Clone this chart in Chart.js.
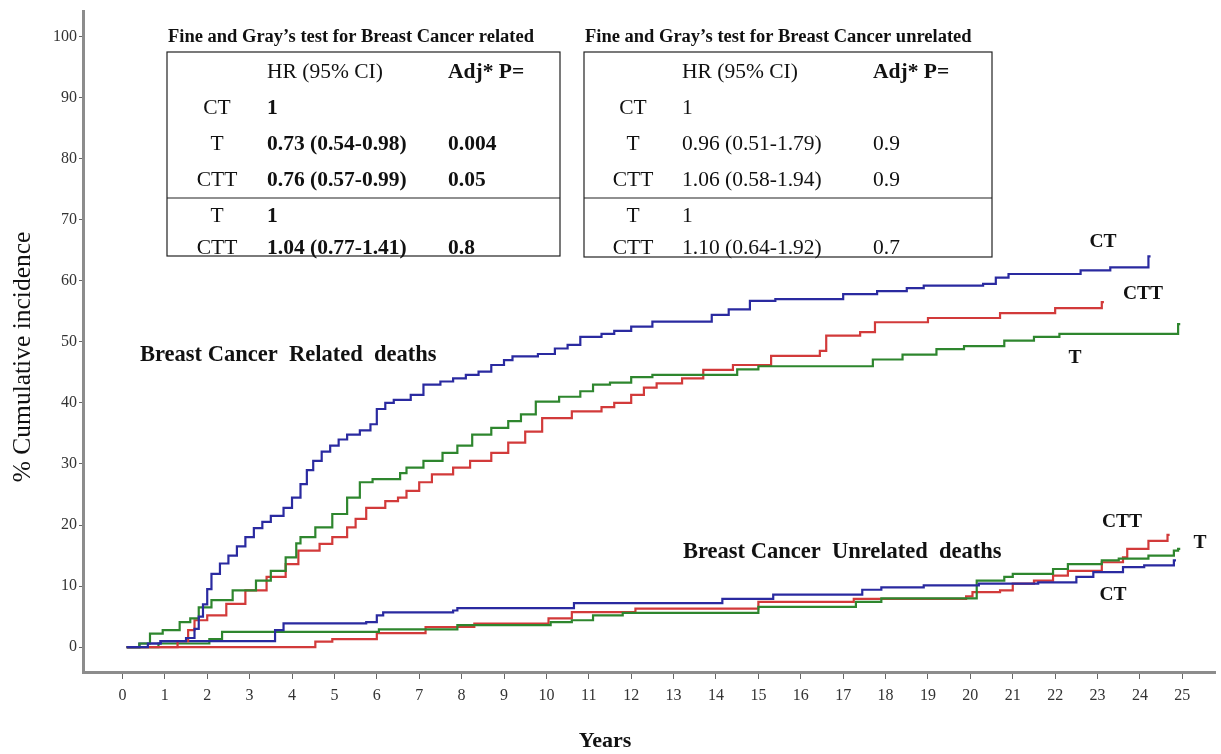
<!DOCTYPE html>
<html>
<head>
<meta charset="utf-8">
<script src="https://cdn.jsdelivr.net/npm/chart.js@4.4.1/dist/chart.umd.min.js"></script>
<style>
  body { margin: 0; background: #fff; }
  #wrap { width: 1221px; height: 754px; position: relative; }
</style>
</head>
<body>
<div id="wrap"><canvas id="chart"></canvas></div>
<script>
// tick labels
const xTicks = [0,1,2,3,4,5,6,7,8,9,10,11,12,13,14,15,16,17,18,19,20,21,22,23,24,25];
const yTicks = [0,10,20,30,40,50,60,70,80,90,100];

// breast cancer related deaths, [years, % cumulative incidence]
const relatedCT = [[0.1,0],[0.6,0.6],[0.9,1],[1.5,1.5],[1.7,3],[1.8,5],[1.9,7],[2.0,9.5],[2.1,12],[2.3,13.7],[2.5,15],[2.7,16.5],[2.9,18],[3.1,19.5],[3.3,20.5],[3.5,21.5],[3.8,22.8],[4.0,24.5],[4.2,26.7],[4.35,29],[4.5,30.5],[4.7,32],[4.9,33],[5.1,34],[5.3,34.8],[5.6,35.5],[5.85,36.5],[6.0,39],[6.2,40],[6.4,40.5],[6.8,41.3],[7.1,43],[7.5,43.5],[7.8,44],[8.1,44.6],[8.4,45.1],[8.7,46.2],[9.0,47],[9.2,47.6],[9.8,48],[10.2,48.9],[10.5,49.5],[10.8,50.8],[11.3,51.3],[11.6,51.8],[12.0,52.5],[12.5,53.3],[13.9,54.4],[14.3,55.3],[14.8,56.7],[15.4,57],[17.0,57.8],[17.8,58.3],[18.5,58.8],[18.9,59.2],[20.3,59.5],[20.6,60.5],[20.9,61.1],[22.6,61.7],[23.3,62.2],[24.2,64],[24.25,64]];
const relatedT = [[0.1,0],[0.4,0.6],[0.65,2.2],[0.95,2.8],[1.35,4.1],[1.6,4.7],[1.8,6.5],[2.1,7.7],[2.6,9.3],[3.15,10.9],[3.5,12.5],[3.85,14.7],[4.1,17],[4.2,18],[4.55,19.6],[4.95,21.8],[5.3,24.5],[5.6,27],[5.9,27.5],[6.55,28.5],[6.7,29.4],[7.1,30.5],[7.55,31.8],[7.9,33],[8.25,34.8],[8.7,35.9],[9.1,37],[9.4,38.1],[9.75,40.2],[10.3,41],[10.8,41.9],[11.1,43],[11.5,43.3],[12.0,44.2],[12.5,44.6],[14.5,45.5],[15.0,46],[17.7,47.1],[18.4,47.9],[19.2,48.8],[19.85,49.3],[20.8,50.2],[21.5,50.8],[22.1,51.3],[24.9,52.9],[24.95,52.9]];
const relatedCTT = [[0.1,0],[1.3,1],[1.55,2.8],[1.7,4.4],[2.0,5.2],[2.45,7.1],[2.9,9.3],[3.4,11.5],[3.85,13.6],[4.15,15.8],[4.65,16.9],[4.95,18],[5.3,19.6],[5.5,21],[5.75,22.8],[6.2,23.9],[6.5,24.5],[6.7,25.6],[7.0,27],[7.3,28.3],[7.8,29.4],[8.2,30.5],[8.7,31.8],[9.1,33.5],[9.5,35.3],[9.9,37.5],[10.6,38.6],[11.3,39.3],[11.6,40],[12.0,41.3],[12.3,42.5],[12.6,43.2],[13.2,44],[13.7,45.4],[14.4,46.2],[15.3,47.7],[16.45,48.5],[16.6,51],[17.4,51.6],[17.75,53.2],[19.0,53.9],[20.7,54.7],[22.0,55.5],[23.1,56.5],[23.15,56.5]];

// breast cancer unrelated deaths
const unrelatedCT = [[0.1,0],[0.4,0.6],[0.9,1],[3.6,2.8],[3.8,3.9],[5.75,4.1],[6.0,5.2],[6.15,5.7],[7.8,6.0],[7.9,6.4],[10.65,7.2],[14.15,7.9],[15.35,8.6],[17.45,9.4],[17.9,9.8],[18.9,10.1],[20.2,10.4],[21.6,10.6],[22.5,11.5],[22.9,12.3],[23.6,13.1],[24.1,13.4],[24.8,14.2],[24.85,14.2]];
const unrelatedT = [[0.1,0],[0.85,0.6],[2.05,1.3],[2.35,2.5],[6.05,2.9],[7.9,3.6],[10.1,4.1],[10.6,4.4],[11.1,5.2],[11.8,5.6],[15.0,6.6],[17.3,7.4],[17.9,8.0],[20.15,10.9],[20.8,11.5],[21.0,12],[21.95,12.8],[22.3,13.6],[23.1,14.2],[23.5,14.5],[24.2,15.0],[24.8,15.8],[24.9,16.1],[24.95,16.1]];
const unrelatedCTT = [[0.1,0],[4.55,0.9],[4.95,1.3],[6.0,2.3],[7.15,3.3],[8.3,3.85],[10.05,4.7],[10.6,5.75],[12.1,6.3],[15.0,7.4],[17.25,7.9],[19.9,8.3],[20.05,9.0],[20.7,9.3],[21.0,10.4],[21.5,10.9],[21.95,11.7],[22.3,12.5],[23.1,13.9],[23.6,14.7],[23.7,16.1],[24.2,17.4],[24.65,18.4],[24.7,18.4]];

// Fine and Gray tables
const tableTitles = ["Fine and Gray\u2019s test for Breast Cancer related", "Fine and Gray\u2019s test for Breast Cancer unrelated"];
const tableHeader = ["HR (95% CI)", "Adj* P="];
const tableGroups = ["CT", "T", "CTT", "T", "CTT"];
const relatedHR = ["1", "0.73 (0.54-0.98)", "0.76 (0.57-0.99)", "1", "1.04 (0.77-1.41)"];
const relatedP = ["", "0.004", "0.05", "", "0.8"];
const unrelatedHR = ["1", "0.96 (0.51-1.79)", "1.06 (0.58-1.94)", "1", "1.10 (0.64-1.92)"];
const unrelatedP = ["", "0.9", "0.9", "", "0.7"];

const BLUE = '#2a2aa0', RED = '#d23a3a', GREEN = '#2e862e';
const SERIF = '"Liberation Serif", "Times New Roman", serif';

function pts(arr) { return arr.map(p => ({x: p[0], y: p[1]})); }
function line(label, arr, color) {
    return {
        label: label,
        data: pts(arr),
        borderColor: color,
        backgroundColor: color,
        borderWidth: 2.2,
        stepped: 'before',
        pointRadius: 0,
        fill: false
    };
}

// text overlays: tables, annotations, axis titles
const overlay = {
    id: 'overlay',
    afterDraw(chart) {
        const ctx = chart.ctx;
        ctx.save();
        ctx.fillStyle = '#111';
        ctx.strokeStyle = '#222';
        ctx.textBaseline = 'middle';

        function txt(s, x, y, size, bold, align) {
            ctx.font = (bold ? 'bold ' : '') + size + 'px ' + SERIF;
            ctx.textAlign = align || 'left';
            ctx.fillText(s, x, y);
        }

        function table(box, title, hr, p, hrBold) {
            const [l, t, r, b, mid, cLab, cHR, cP] = box;
            txt(title, l + 1, 37, 18.5, true);
            ctx.lineWidth = 1.2;
            ctx.strokeRect(l, t, r - l, b - t);
            ctx.beginPath(); ctx.moveTo(l, mid); ctx.lineTo(r, mid); ctx.stroke();
            txt(tableHeader[0], cHR, 72, 21.5, false);
            txt(tableHeader[1], cP, 72, 21.5, true);
            const rowsY = [108, 144, 180, 216, 248];
            tableGroups.forEach((g, i) => {
                txt(g, cLab, rowsY[i], 21.5, false, 'center');
                txt(hr[i], cHR, rowsY[i], 21.5, hrBold);
                txt(p[i], cP, rowsY[i], 21.5, hrBold);
            });
        }
        table([167, 52, 560, 256, 198, 217, 267, 448], tableTitles[0], relatedHR, relatedP, true);
        table([584, 52, 992, 257, 198, 633, 682, 873], tableTitles[1], unrelatedHR, unrelatedP, false);

        txt('Breast Cancer  Related  deaths', 140, 355, 22.5, true);
        txt('Breast Cancer  Unrelated  deaths', 683, 552, 22.5, true);

        txt('CT', 1103, 242, 19.5, true, 'center');
        txt('CTT', 1143, 294, 19.5, true, 'center');
        txt('T', 1075, 358, 19.5, true, 'center');
        txt('CTT', 1122, 522, 19.5, true, 'center');
        txt('T', 1200, 543, 19.5, true, 'center');
        txt('CT', 1113, 595, 19.5, true, 'center');

        txt('Years', 605, 741, 22, true, 'center');
        ctx.translate(23, 357);
        ctx.rotate(-Math.PI / 2);
        txt('% Cumulative incidence', 0, 0, 25.5, false, 'center');
        ctx.restore();
    }
};

new Chart(document.getElementById('chart'), {
    type: 'line',
    data: {
        datasets: [
            line('CT related', relatedCT, BLUE),
            line('T related', relatedT, GREEN),
            line('CTT related', relatedCTT, RED),
            line('CT unrelated', unrelatedCT, BLUE),
            line('T unrelated', unrelatedT, GREEN),
            line('CTT unrelated', unrelatedCTT, RED)
        ]
    },
    options: {
        responsive: true,
        maintainAspectRatio: false,
        animation: false,
        layout: { padding: { top: 8, right: 6, left: 0, bottom: 0 } },
        plugins: { legend: { display: false }, tooltip: { enabled: false } },
        scales: {
            x: {
                type: 'linear',
                min: -0.93,
                max: 25.77,
                afterFit: s => { s.height = 82; },
                afterBuildTicks: s => { s.ticks = xTicks.map(v => ({value: v})); },
                ticks: { font: { family: SERIF, size: 16 }, color: '#333', padding: 7, maxRotation: 0, autoSkip: false },
                grid: { drawOnChartArea: false, tickLength: 7, color: '#666' },
                border: { color: '#8c8c8c', width: 3 }
            },
            y: {
                min: -4.07,
                max: 104.07,
                afterFit: s => { s.width = 83; },
                afterBuildTicks: s => { s.ticks = yTicks.map(v => ({value: v})); },
                ticks: { font: { family: SERIF, size: 16 }, color: '#333', padding: 2 },
                grid: { drawOnChartArea: false, tickLength: 4, color: '#666' },
                border: { color: '#8c8c8c', width: 3 }
            }
        }
    },
    plugins: [overlay]
});
</script>
</body>
</html>
